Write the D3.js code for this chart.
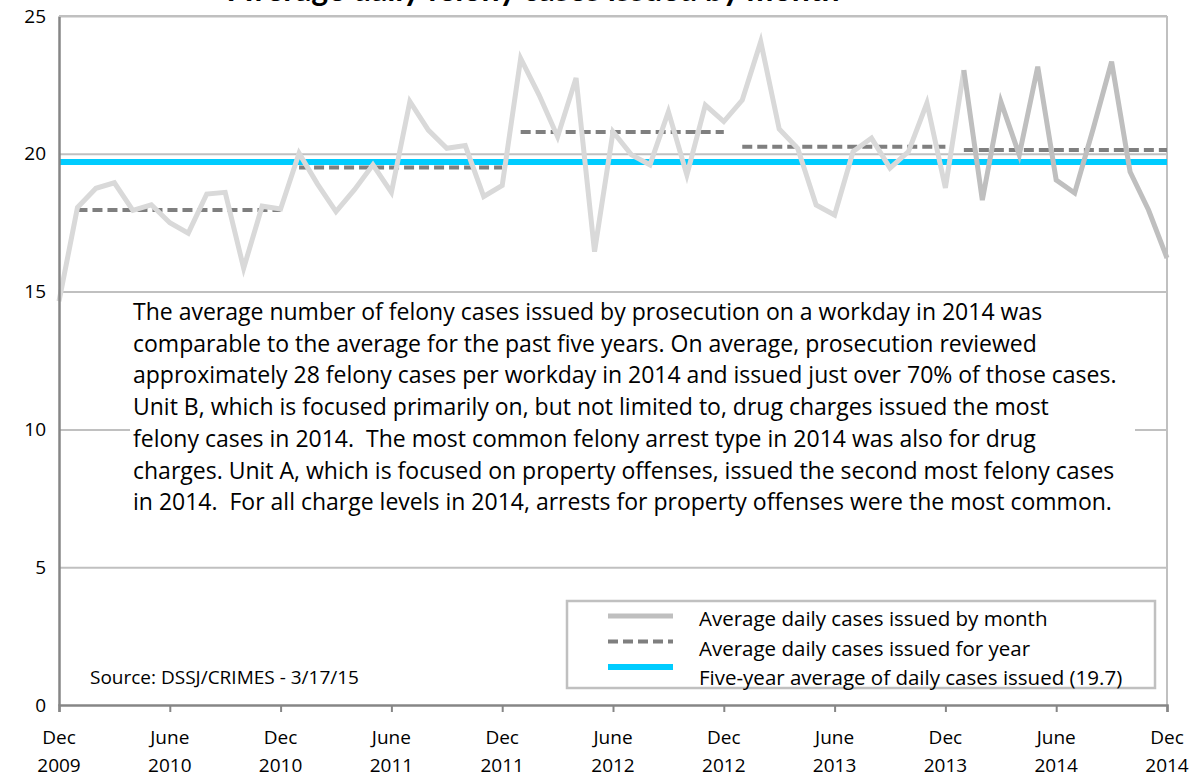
<!DOCTYPE html>
<html>
<head>
<meta charset="utf-8">
<script src="https://cdn.jsdelivr.net/npm/d3@7"></script>
<style>
  body { margin: 0; background: #fff; }
  svg { display: block; font-family: "Open Sans", Lato, sans-serif; }
</style>
</head>
<body>
<svg width="1196" height="778"></svg>
<script>
// monthly average of daily felony cases issued, Dec 2009 .. Dec 2014
const monthly = [
  14.65, 18.05, 18.75, 18.95, 17.95, 18.15, 17.5, 17.12, 18.54, 18.6, 15.85, 18.1, 18.0,
  20.02, 18.9, 17.9, 18.7, 19.6, 18.6, 21.9, 20.86, 20.2, 20.3, 18.45, 18.85,
  23.46, 22.13, 20.62, 22.75, 16.45, 20.8, 19.96, 19.6, 21.53, 19.23, 21.77, 21.17,
  21.95, 24.07, 20.9, 20.2, 18.14, 17.78, 20.08, 20.57, 19.48, 20.08, 21.84, 18.76,
  23.04, 18.32, 21.9, 19.96, 23.16, 19.05, 18.58, 20.9, 23.34, 19.35, 17.96, 16.22
];
const splitAt = 49; // 2014 months drawn darker

const years = [2010, 2011, 2012, 2013, 2014];
const yearAvg = [17.96, 19.5, 20.79, 20.26, 20.14];
const yearStart = [1, 13, 25, 37, 49];

const fiveYearAvg = 19.7;

const tickMonths = ['Dec', 'June', 'Dec', 'June', 'Dec', 'June', 'Dec', 'June', 'Dec', 'June', 'Dec'];
const tickYears = ['2009', '2010', '2010', '2011', '2011', '2012', '2012', '2013', '2013', '2014', '2014'];
const yTicks = [0, 5, 10, 15, 20, 25];

const note = [
  'The average number of felony cases issued by prosecution on a workday in 2014 was',
  'comparable to the average for the past five years. On average, prosecution reviewed',
  'approximately 28 felony cases per workday in 2014 and issued just over 70% of those cases.',
  'Unit B, which is focused primarily on, but not limited to, drug charges issued the most',
  'felony cases in 2014.  The most common felony arrest type in 2014 was also for drug',
  'charges. Unit A, which is focused on property offenses, issued the second most felony cases',
  'in 2014.  For all charge levels in 2014, arrests for property offenses were the most common.'
];

const legendItems = [
  { label: 'Average daily cases issued by month', color: '#bfbfbf', width: 5, dash: null },
  { label: 'Average daily cases issued for year', color: '#7f7f7f', width: 4, dash: '10,5' },
  { label: 'Five-year average of daily cases issued (19.7)', color: '#00ccff', width: 6, dash: null }
];

const svg = d3.select('svg');

const margin = { top: 16, right: 29, bottom: 73, left: 59 };
const width = 1196 - margin.left - margin.right;
const height = 778 - margin.top - margin.bottom;

const x = d3.scaleLinear().domain([0, monthly.length - 1]).range([0, width]);
const y = d3.scaleLinear().domain([0, 25]).range([height, 0]);

// title, mostly cut off by the top of the picture (as in the original)
svg.append('text')
  .attr('x', 229).attr('y', 1)
  .attr('font-family', 'Lato, sans-serif')
  .attr('font-size', 32).attr('font-weight', 'bold')
  .text('Average daily felony cases issued by month');

const g = svg.append('g').attr('transform', `translate(${margin.left},${margin.top})`);

// gridlines
g.append('g')
  .call(d3.axisLeft(y).tickValues(yTicks.slice(1)).tickSize(-width).tickFormat(''))
  .call(s => s.select('.domain').remove())
  .selectAll('line').attr('stroke', '#c0c0c0').attr('stroke-width', 2);

// right border
g.append('line')
  .attr('x1', width).attr('x2', width).attr('y1', 0).attr('y2', height)
  .attr('stroke', '#c0c0c0').attr('stroke-width', 2);

// five-year average
g.append('line')
  .attr('x1', 0).attr('x2', width)
  .attr('y1', y(fiveYearAvg)).attr('y2', y(fiveYearAvg))
  .attr('stroke', '#00ccff').attr('stroke-width', 6);

// year averages
years.forEach((yr, i) => {
  g.append('line')
    .attr('x1', x(yearStart[i])).attr('x2', x(yearStart[i] + 11))
    .attr('y1', y(yearAvg[i])).attr('y2', y(yearAvg[i]))
    .attr('stroke', '#7f7f7f').attr('stroke-width', 4)
    .attr('stroke-dasharray', '10,5');
});

// monthly line
const line = d3.line().x(d => x(d[0])).y(d => y(d[1]));
const pts = monthly.map((v, i) => [i, v]);

g.append('path')
  .datum(pts.slice(0, splitAt + 1))
  .attr('d', line)
  .attr('fill', 'none').attr('stroke', '#d9d9d9').attr('stroke-width', 5);

g.append('path')
  .datum(pts.slice(splitAt))
  .attr('d', line)
  .attr('fill', 'none').attr('stroke', '#bfbfbf').attr('stroke-width', 5);

// note box
const noteBox = g.append('g').attr('transform', `translate(${130 - margin.left},${294 - margin.top})`);
noteBox.append('rect')
  .attr('width', 1005).attr('height', 230)
  .attr('fill', '#fff');
noteBox.selectAll('text')
  .data(note)
  .join('text')
  .attr('x', 3)
  .attr('y', (d, i) => 26 + i * 31.7)
  .attr('font-size', 23)
  .style('white-space', 'pre')
  .attr('fill', '#000')
  .text(d => d);

// source
g.append('text')
  .attr('x', 90 - margin.left).attr('y', 684 - margin.top)
  .attr('font-size', 19)
  .text('Source: DSSJ/CRIMES - 3/17/15');

// legend
const legend = g.append('g').attr('transform', `translate(${567 - margin.left},${601 - margin.top})`);
legend.append('rect')
  .attr('width', 588).attr('height', 87)
  .attr('fill', '#fff').attr('stroke', '#c0c0c0').attr('stroke-width', 2.5);
legendItems.forEach((it, i) => {
  legend.append('line')
    .attr('x1', 41).attr('x2', 106)
    .attr('y1', 15 + i * 25.5).attr('y2', 15 + i * 25.5)
    .attr('stroke', it.color).attr('stroke-width', it.width)
    .attr('stroke-dasharray', it.dash);
  legend.append('text')
    .attr('x', 132).attr('y', 25 + i * 29.5)
    .attr('font-size', 20.5)
    .text(it.label);
});

// axes
const xAxis = g.append('g')
  .attr('transform', `translate(0,${height})`)
  .call(d3.axisBottom(x).tickValues(d3.range(0, 61, 6)).tickSize(7).tickFormat(''));
xAxis.select('.domain').attr('stroke', '#868686').attr('stroke-width', 2.5);
xAxis.selectAll('.tick line').attr('stroke', '#868686').attr('stroke-width', 2);

const tickG = g.append('g').selectAll('g')
  .data(d3.range(0, 61, 6))
  .join('g')
  .attr('transform', d => `translate(${x(d)},${height})`);
tickG.append('text')
  .attr('y', 39).attr('text-anchor', 'middle').attr('font-size', 19)
  .text((d, i) => tickMonths[i]);
tickG.append('text')
  .attr('y', 67).attr('text-anchor', 'middle').attr('font-size', 19)
  .text((d, i) => tickYears[i]);

const yAxis = g.append('g')
  .call(d3.axisLeft(y).tickValues(yTicks).tickSize(0).tickPadding(13));
yAxis.select('.domain').attr('stroke', '#868686').attr('stroke-width', 2.5);
yAxis.selectAll('text').attr('font-size', 19).attr('fill', '#000').attr('font-family', '"Open Sans", sans-serif');

// top border
g.append('line')
  .attr('x1', 0).attr('x2', width).attr('y1', 0).attr('y2', 0)
  .attr('stroke', '#c0c0c0').attr('stroke-width', 2);
</script>
</body>
</html>
